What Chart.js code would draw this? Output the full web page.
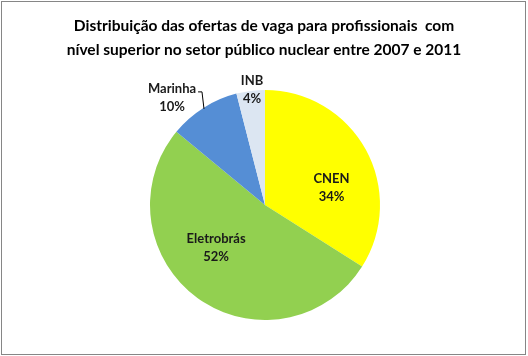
<!DOCTYPE html>
<html><head><meta charset="utf-8">
<script src="https://cdn.jsdelivr.net/npm/chart.js@4"></script>
<style>html,body{margin:0;padding:0;background:#fff}#wrap{width:528px;height:356px;position:relative}</style>
</head><body><div id="wrap"><canvas id="c" width="528" height="356"></canvas></div>
<script>
const titleLines = ["Distribuição das ofertas de vaga para profissionais  com", "nível superior no setor público nuclear entre 2007 e 2011"];
const categories = ["CNEN", "Eletrobrás", "Marinha", "INB"];
const values = [34, 52, 10, 4];
const colors = ["#FFFF00", "#92D050", "#558ED5", "#DCE6F2"];
// label placement: [angle offset in degrees from slice middle, radius fraction]
const labelPlace = [[13.5, 0.6], [13.4, 0.56], [-8.3, 1.24], [0.8, 1.015]];

const deco = {
  id: 'deco',
  afterDraw(chart) {
    const ctx = chart.ctx;
    ctx.save();
    ctx.strokeStyle = '#868686';
    ctx.lineWidth = 1;
    ctx.strokeRect(1.5, 1.5, 524, 353);
    ctx.fillStyle = '#000';
    ctx.font = 'bold 15.5px Lato';
    ctx.textAlign = 'center';
    ctx.textBaseline = 'middle';
    ctx.fillText(titleLines[0], 264, 26);
    ctx.fillText(titleLines[1], 264, 50);
    const meta = chart.getDatasetMeta(0);
    ctx.font = 'bold 13px Lato';
    ctx.fillStyle = '#1a1a1a';
    meta.data.forEach((arc, i) => {
      const p = arc.getProps(['x','y','startAngle','endAngle','outerRadius'], true);
      const midA = (p.startAngle + p.endAngle) / 2;
      const mid = midA + labelPlace[i][0] * Math.PI / 180;
      const r = p.outerRadius * labelPlace[i][1];
      const lx = p.x + Math.cos(mid) * r, ly = p.y + Math.sin(mid) * r + 1;
      ctx.fillText(categories[i], lx, ly - 9);
      ctx.fillText(values[i] + '%', lx, ly + 9);
      if (labelPlace[i][1] > 1.1) {
        const w = ctx.measureText(categories[i]).width;
        const sx = lx + w / 2 + 2, sy = ly - 6;
        const ex = p.x + Math.cos(midA) * p.outerRadius * 0.99;
        const ey = p.y + Math.sin(midA) * p.outerRadius * 0.99;
        ctx.strokeStyle = '#000';
        ctx.beginPath();
        ctx.moveTo(sx, sy); ctx.lineTo(ex - 2, sy); ctx.lineTo(ex, ey);
        ctx.stroke();
      }
    });
    ctx.restore();
  }
};

new Chart(document.getElementById('c'), {
  type: 'pie',
  data: { labels: categories, datasets: [{ data: values, backgroundColor: colors, borderWidth: 0 }] },
  options: {
    responsive: false, animation: false, events: [],
    layout: { padding: { top: 90, bottom: 36, left: 2, right: 0 } },
    plugins: { legend: { display: false }, title: { display: false }, tooltip: { enabled: false } }
  },
  plugins: [deco]
});
</script></body></html>
